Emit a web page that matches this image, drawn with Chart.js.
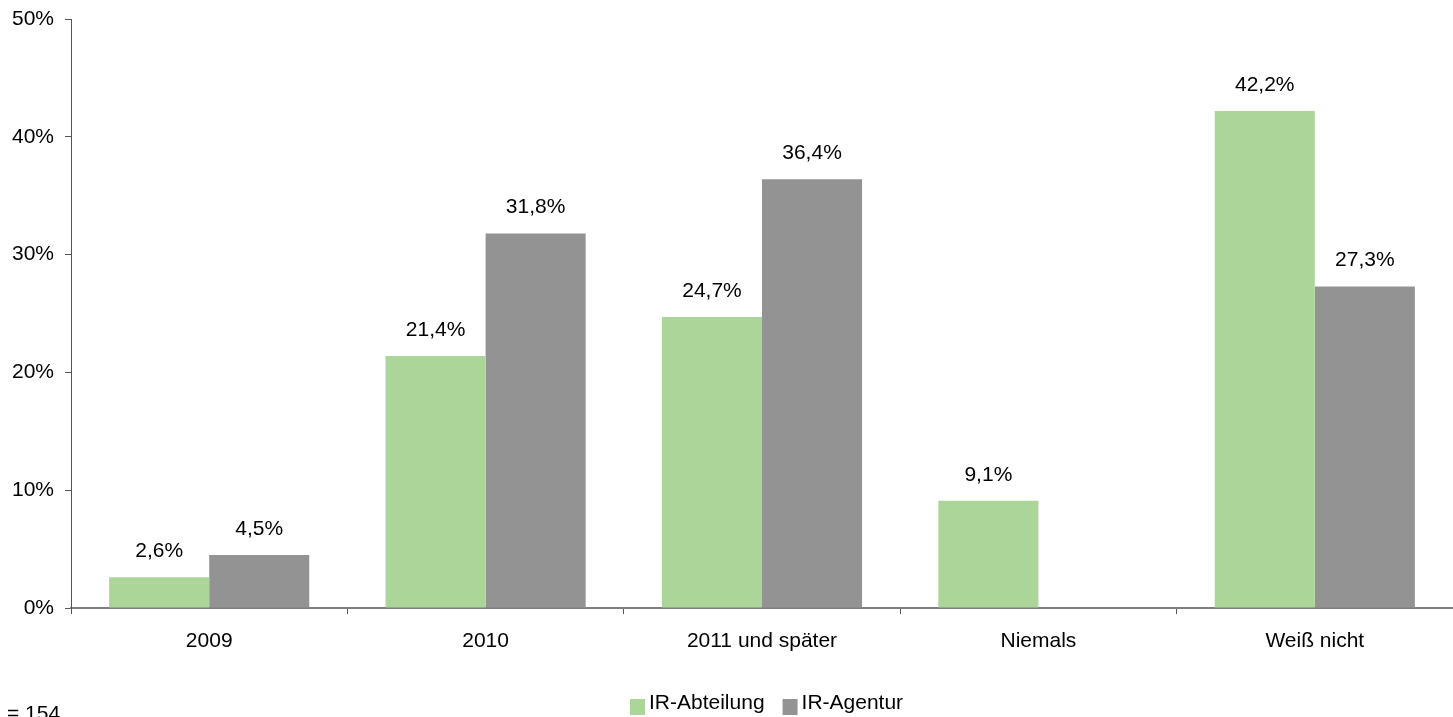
<!DOCTYPE html>
<html>
<head>
<meta charset="utf-8">
<script src="https://cdn.jsdelivr.net/npm/chart.js@4/dist/chart.umd.min.js"></script>
<style>
  html, body { margin: 0; padding: 0; background: #fff; }
  #wrap { width: 1453px; height: 717px; }
</style>
</head>
<body>
<div id="wrap"><canvas id="chart"></canvas></div>
<script>
const categories = ["2009", "2010", "2011 und später", "Niemals", "Weiß nicht"];
const abteilung = [2.6, 21.4, 24.7, 9.1, 42.2];
const agentur = [4.5, 31.8, 36.4, 0, 27.3];
const seriesNames = ["IR-Abteilung", "IR-Agentur"];
const yTicks = [0, 10, 20, 30, 40, 50];
const sampleNote = "n = 154";

const FONT = "'Liberation Sans', Arial, sans-serif";

// labels above bars, with German decimal comma
const barLabels = {
  id: "barLabels",
  afterDatasetsDraw(chart) {
    const c = chart.ctx;
    c.save();
    c.font = "21px " + FONT;
    c.fillStyle = "#000";
    c.textAlign = "center";
    c.textBaseline = "middle";
    chart.data.datasets.forEach((ds, i) => {
      chart.getDatasetMeta(i).data.forEach((bar, j) => {
        const v = ds.data[j];
        if (!v) return;
        c.fillText(v.toFixed(1).replace(".", ",") + "%", bar.x, bar.y - 26);
      });
    });
    c.restore();
  }
};

// legend + sample size note (the "n" is cut off by the left edge in the original)
const extras = {
  id: "extras",
  afterDraw(chart) {
    const c = chart.ctx;
    c.save();
    c.font = "21px " + FONT;
    c.fillStyle = "#000";
    c.textBaseline = "alphabetic";
    c.textAlign = "left";
    const cut = sampleNote.indexOf(" ");
    c.fillText(sampleNote.slice(0, cut), -20, 720);
    c.fillText(sampleNote.slice(cut + 1), 7, 720);
    let x = 630;
    chart.data.datasets.forEach(ds => {
      c.fillStyle = ds.backgroundColor;
      c.fillRect(x, 699, 15, 16);
      x += 19;
      c.fillStyle = "#000";
      c.fillText(ds.label, x, 709);
      x += c.measureText(ds.label).width + 18;
    });
    c.restore();
  }
};

new Chart(document.getElementById("chart"), {
  type: "bar",
  data: {
    labels: categories,
    datasets: [
      { label: seriesNames[0], data: abteilung, backgroundColor: "#acd59a" },
      { label: seriesNames[1], data: agentur, backgroundColor: "#939393" }
    ]
  },
  options: {
    responsive: true,
    maintainAspectRatio: false,
    animation: false,
    layout: { padding: { top: 19, right: 0, bottom: 49, left: 0 } },
    datasets: { bar: { categoryPercentage: 0.724, barPercentage: 1.0, borderWidth: 0 } },
    plugins: { legend: { display: false }, tooltip: { enabled: false } },
    scales: {
      x: {
        grid: { display: true, drawOnChartArea: false, drawTicks: true, tickLength: 6, color: "#555", offset: true },
        border: { display: true, color: "#7f7f7f", width: 2 },
        ticks: { color: "#000", font: { size: 21, family: FONT }, padding: 15, maxRotation: 0 },
        afterFit(scale) { scale.height = 60; scale.paddingLeft = 0; scale.paddingRight = 0; }
      },
      y: {
        min: 0,
        max: 50,
        grid: { display: true, drawOnChartArea: false, drawTicks: true, tickLength: 6, color: "#555" },
        border: { display: true, color: "#555", width: 1 },
        afterBuildTicks(scale) { scale.ticks = yTicks.map(v => ({ value: v })); },
        ticks: {
          color: "#000",
          font: { size: 21, family: FONT },
          padding: 11,
          callback: v => v + "%"
        },
        afterFit(scale) { scale.width = 71; scale.paddingTop = 0; scale.paddingBottom = 0; }
      }
    }
  },
  plugins: [barLabels, extras]
});
</script>
</body>
</html>
